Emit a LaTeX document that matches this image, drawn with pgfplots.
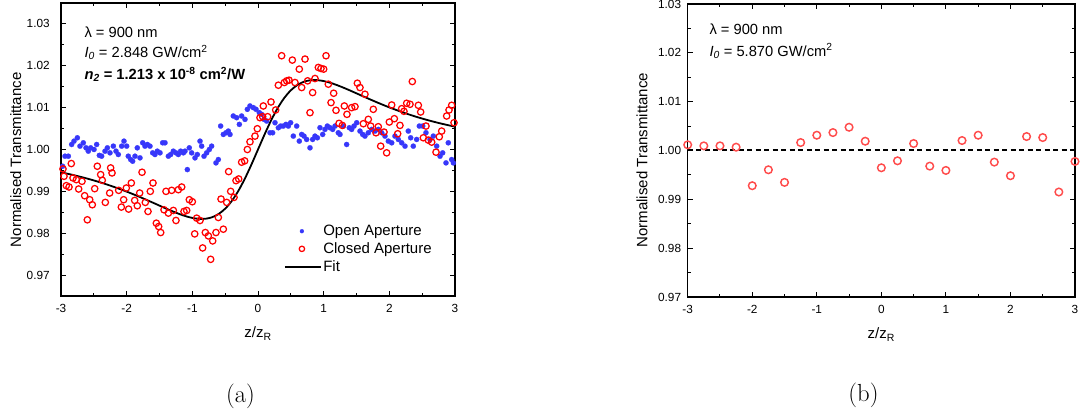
\documentclass[border=0pt]{standalone}
\usepackage{fontspec}
\usepackage{pgfplots}
\usepackage{pgfplotstable}
\pgfplotsset{compat=1.18}
\newfontfamily\arial{Liberation Sans}
\definecolor{oablue}{RGB}{55,55,250}
\definecolor{cared}{RGB}{255,0,0}
\definecolor{cbred}{RGB}{255,75,75}

\pgfplotstableread{
x y
-2.975 0.9960
-2.939 0.9984
-2.888 0.9984
-2.838 1.0012
-2.802 1.0020
-2.751 1.0028
-2.711 1.0008
-2.660 1.0016
-2.619 1.0004
-2.584 0.9996
-2.548 1.0004
-2.497 1.0000
-2.457 1.0012
-2.416 0.9986
-2.381 0.9984
-2.330 0.9996
-2.294 1.0004
-2.254 0.9992
-2.203 1.0008
-2.162 0.9996
-2.127 0.9988
-2.076 1.0008
-2.041 1.0020
-2.000 1.0008
-1.975 0.9984
-1.939 0.9976
-1.909 0.9972
-1.873 0.9984
-1.838 1.0004
-1.797 0.9980
-1.756 1.0016
-1.721 1.0008
-1.685 1.0012
-1.645 1.0008
-1.604 0.9992
-1.569 0.9988
-1.533 0.9996
-1.492 0.9992
-1.452 1.0016
-1.416 1.0016
-1.365 0.9984
-1.330 0.9988
-1.289 0.9996
-1.249 0.9992
-1.213 0.9988
-1.178 0.9996
-1.137 0.9992
-1.112 0.9996
-1.076 0.9952
-1.046 1.0004
-1.010 0.9992
-0.959 0.9980
-0.924 0.9988
-0.883 1.0020
-0.858 1.0008
-0.822 0.9984
-0.782 0.9992
-0.741 1.0000
-0.706 1.0008
-0.640 0.9968
-0.604 0.9976
-0.569 1.0056
-0.528 1.0036
-0.487 1.0040
-0.452 1.0044
-0.426 1.0036
-0.376 1.0080
-0.325 1.0076
-0.284 1.0060
-0.249 1.0080
-0.198 1.0072
-0.162 1.0096
-0.122 1.0104
-0.071 1.0100
-0.030 1.0096
0.020 1.0088
0.056 1.0084
0.091 1.0072
0.132 1.0068
0.183 1.0040
0.223 1.0040
0.259 1.0064
0.310 1.0052
0.345 1.0056
0.386 1.0056
0.426 1.0060
0.462 1.0056
0.497 1.0064
0.538 1.0032
0.589 1.0056
0.629 1.0020
0.665 1.0036
0.701 1.0032
0.741 1.0024
0.792 1.0004
0.832 1.0024
0.868 1.0032
0.904 1.0028
0.944 1.0052
0.985 1.0036
1.020 1.0048
1.056 1.0056
1.096 1.0052
1.137 1.0048
1.173 1.0056
1.223 1.0040
1.249 1.0036
1.299 1.0056
1.350 1.0012
1.391 1.0052
1.426 1.0048
1.462 1.0056
1.503 1.0064
1.553 1.0044
1.594 1.0036
1.629 1.0032
1.680 1.0040
1.731 1.0048
1.782 1.0044
1.832 1.0048
1.883 1.0040
1.934 1.0032
1.985 1.0020
2.036 1.0016
2.086 1.0032
2.137 1.0024
2.188 1.0016
2.239 1.0008
2.289 1.0044
2.325 1.0028
2.365 1.0008
2.416 1.0024
2.457 1.0056
2.508 1.0056
2.558 1.0040
2.619 1.0024
2.670 1.0032
2.721 1.0008
2.772 0.9984
2.812 0.9992
2.863 0.9968
2.898 1.0016
2.949 0.9976
2.975 0.9968
}\openA

\pgfplotstableread{
x y
-2.970 0.99536
-2.954 0.99360
-2.919 0.99136
-2.878 0.99104
-2.843 0.99664
-2.817 0.99320
-2.766 0.99280
-2.731 0.99056
-2.680 0.99240
-2.640 0.98896
-2.599 0.98320
-2.563 0.98800
-2.523 0.98680
-2.487 0.99064
-2.447 0.99600
-2.396 0.99400
-2.371 0.99264
-2.325 0.98736
-2.259 0.98960
-2.244 0.99560
-2.223 0.99440
-2.122 0.99024
-2.081 0.98624
-2.046 0.98800
-2.005 0.99080
-1.970 0.98576
-1.929 0.99200
-1.878 0.98784
-1.838 0.98656
-1.802 0.98960
-1.766 0.99456
-1.716 0.98736
-1.675 0.98520
-1.640 0.99000
-1.599 0.99200
-1.548 0.98240
-1.513 0.98160
-1.482 0.98016
-1.431 0.98560
-1.401 0.99000
-1.365 0.98480
-1.315 0.99024
-1.289 0.98544
-1.249 0.98304
-1.213 0.99040
-1.162 0.99104
-1.127 0.98520
-1.086 0.98544
-1.046 0.98800
-1.000 0.98752
-0.964 0.97984
-0.934 0.98360
-0.883 0.98304
-0.843 0.97648
-0.802 0.98016
-0.756 0.97936
-0.721 0.97376
-0.690 0.97816
-0.640 0.98016
-0.604 0.98376
-0.563 0.98816
-0.528 0.98096
-0.477 0.98736
-0.447 0.99472
-0.416 0.99000
-0.365 0.98856
-0.335 0.99256
-0.294 0.99296
-0.249 0.99696
-0.203 0.99728
-0.162 1.00000
-0.122 1.00184
-0.046 1.00320
-0.010 1.00496
0.030 1.00760
0.071 1.00784
0.081 1.01040
0.147 1.00784
0.198 1.01136
0.269 1.00944
0.310 1.01536
0.360 1.02240
0.401 1.01600
0.437 1.01640
0.472 1.01656
0.523 1.02136
0.563 1.01600
0.629 1.01920
0.665 1.01480
0.716 1.02160
0.756 1.01640
0.792 1.00880
0.832 1.01360
0.868 1.01696
0.919 1.01960
0.959 1.01936
1.000 1.01920
1.036 1.02240
1.071 1.01560
1.112 1.01120
1.152 1.01344
1.188 1.00936
1.234 1.00624
1.284 1.00576
1.315 1.01040
1.355 1.00840
1.426 1.01000
1.477 1.01024
1.513 1.01584
1.553 1.01480
1.604 1.00616
1.629 1.01320
1.680 1.00720
1.716 1.00560
1.756 1.00960
1.797 1.00400
1.832 1.00544
1.868 1.00080
1.919 1.00416
1.959 0.99920
2.000 1.00656
2.036 1.01064
2.076 1.00736
2.127 1.00376
2.162 1.00576
2.188 1.00976
2.223 1.00912
2.264 1.01104
2.315 1.01080
2.350 1.01624
2.442 1.01056
2.477 1.00896
2.518 1.00280
2.558 1.00560
2.594 1.00224
2.645 1.00176
2.711 0.99936
2.761 1.00304
2.797 1.00440
2.873 1.00800
2.909 1.00944
2.949 1.01056
2.985 1.00640
}\closedA

\pgfplotstableread{
x y
-3.0 0.99455
-2.8 0.99385
-2.6 0.99305
-2.4 0.99214
-2.2 0.99110
-2.0 0.98994
-1.9 0.98931
-1.8 0.98866
-1.7 0.98798
-1.6 0.98729
-1.5 0.98659
-1.4 0.98589
-1.3 0.98522
-1.2 0.98460
-1.1 0.98406
-1.0 0.98365
-0.9 0.98343
-0.8 0.98345
-0.7 0.98381
-0.6 0.98459
-0.5 0.98586
-0.4 0.98769
-0.3 0.99010
-0.2 0.99304
-0.1 0.99641
0.0 1.00000
0.1 1.00359
0.2 1.00696
0.3 1.00990
0.4 1.01231
0.5 1.01414
0.6 1.01541
0.7 1.01619
0.8 1.01655
0.9 1.01657
1.0 1.01635
1.1 1.01594
1.2 1.01540
1.3 1.01478
1.4 1.01411
1.5 1.01341
1.6 1.01271
1.7 1.01202
1.8 1.01134
1.9 1.01069
2.0 1.01006
2.2 1.00890
2.4 1.00786
2.6 1.00695
2.8 1.00615
3.0 1.00545
}\fitA

\pgfplotstableread{
x y
-3.00 1.00116
-2.75 1.00095
-2.50 1.00095
-2.25 1.00068
-2.00 0.99279
-1.75 0.99605
-1.50 0.99347
-1.25 1.00163
-1.00 1.00313
-0.75 1.00367
-0.50 1.00476
-0.25 1.00190
0.00 0.99646
0.25 0.99789
0.50 1.00143
0.75 0.99680
1.00 0.99592
1.25 1.00204
1.50 1.00313
1.75 0.99762
2.00 0.99483
2.25 1.00286
2.50 1.00265
2.75 0.99150
3.00 0.99776
}\closedB

\newcommand\labfont{\arial\fontsize{15}{17}\selectfont}
\newcommand\annfont{\arial\fontsize{14.7}{17}\selectfont}

\pgfplotsset{
  zscan/.style={
    scale only axis,
    font=\arial,
    xmin=-3, xmax=3,
    xtick={-3,-2,-1,0,1,2,3},
    ytick={0.97,0.98,0.99,1.00,1.01,1.02,1.03},
    minor x tick num=1,
    minor y tick num=1,
    tick align=inside,
    xtick pos=both, ytick pos=both,
    major tick length=5pt,
    minor tick length=3pt,
    axis line style={line width=1.25pt},
    every tick/.style={line width=1pt, black},
    tick label style={font=\arial\fontsize{11.8}{13}\selectfont},
    /pgf/number format/assume math mode=true,
    yticklabel style={/pgf/number format/fixed, /pgf/number format/fixed zerofill, /pgf/number format/precision=2},
    xticklabel style={yshift=-5pt, /pgf/number format/fixed, /pgf/number format/precision=0},
    xlabel={z/z\textsubscript{R}},
    ylabel={Normalised Transmittance},
    every axis x label/.style={at={(axis description cs:0.5,-0.1433)}, anchor=base, font=\labfont},
  }
}

\begin{document}
\begin{tikzpicture}
% ---- panel (a) ----
\begin{axis}[zscan,
  at={(61pt,121pt)}, anchor=south west,
  width=394pt, height=293pt,
  ymin=0.965, ymax=1.035,
  yticklabel style={xshift=-7.8pt},
  every axis y label/.style={at={(axis description cs:-0.1015,0.465)}, anchor=base, rotate=90, font=\labfont},
  legend style={draw=none, fill=none, at={(0.5655,0.2474)}, anchor=north west,
    font=\labfont, row sep=2.5pt, inner sep=0pt,
    nodes={inner sep=1.5pt}},
  legend cell align=left,
]
\addplot[only marks, mark=*, mark size=2.6pt, color=oablue,
  mark options={draw=oablue, fill=oablue, line width=0.2pt},
  legend image code/.code={\draw[only marks, mark repeat=2, mark phase=2, mark size=2pt]
    plot coordinates {(0pt,0pt) (19pt,0pt) (38pt,0pt)};}]
  table[x=x,y=y] {\openA};
\addlegendentry{Open Aperture}
\addplot[only marks, mark=o, mark size=3.2pt, color=cared, mark options={line width=1.25pt},
  legend image code/.code={\draw[only marks, mark repeat=2, mark phase=2, mark size=2.7pt]
    plot coordinates {(0pt,0pt) (19pt,0pt) (38pt,0pt)};}]
  table[x=x,y=y] {\closedA};
\addlegendentry{Closed Aperture}
\addplot[black, line width=1.8pt, smooth,
  legend image code/.code={\draw[line width=1.8pt] (2pt,0pt) -- (38pt,0pt);}]
  table[x=x,y=y] {\fitA};
\addlegendentry{Fit}
\node[anchor=base west, font=\annfont] at (rel axis cs:0.0508,0.883) {λ = 900 nm};
\node[anchor=base west, font=\annfont] at (rel axis cs:0.0508,0.8147) {\textit{I}\textsubscript{\textit{0}} = 2.848 GW/cm\textsuperscript{2}};
\node[anchor=base west, font=\annfont\bfseries] at (rel axis cs:0.0508,0.7396) {\textit{n}\textsubscript{\textit{2}} = 1.213 x 10\textsuperscript{-8} cm\textsuperscript{2}/W};
\end{axis}

% ---- panel (b) ----
\begin{axis}[zscan,
  at={(687.7pt,120pt)}, anchor=south west,
  width=387.3pt, height=293pt,
  ymin=0.97, ymax=1.03,
  yticklabel style={xshift=-3.1pt},
  every axis y label/.style={at={(axis description cs:-0.1043,0.467)}, anchor=base, rotate=90, font=\labfont},
]
\addplot[black, line width=2pt, dash pattern=on 5pt off 3.5pt] coordinates {(-3,1) (3,1)};
\addplot[only marks, mark=o, mark size=3.8pt, color=cbred, mark options={line width=1.45pt}]
  table[x=x,y=y] {\closedB};
\node[anchor=base west, font=\annfont] at (rel axis cs:0.0472,0.896) {λ = 900 nm};
\node[anchor=base west, font=\annfont] at (rel axis cs:0.0472,0.8225) {\textit{I}\textsubscript{\textit{0}} = 5.870 GW/cm\textsuperscript{2}};
\end{axis}

\node[font=\fontsize{24.7}{29}\selectfont] at (240.5pt,21pt) {(a)};
\node[font=\fontsize{24.7}{29}\selectfont] at (863.5pt,21.5pt) {(b)};

\pgfresetboundingbox
\path[use as bounding box] (0pt,0pt) rectangle (1090pt,417pt);
\end{tikzpicture}
\end{document}
